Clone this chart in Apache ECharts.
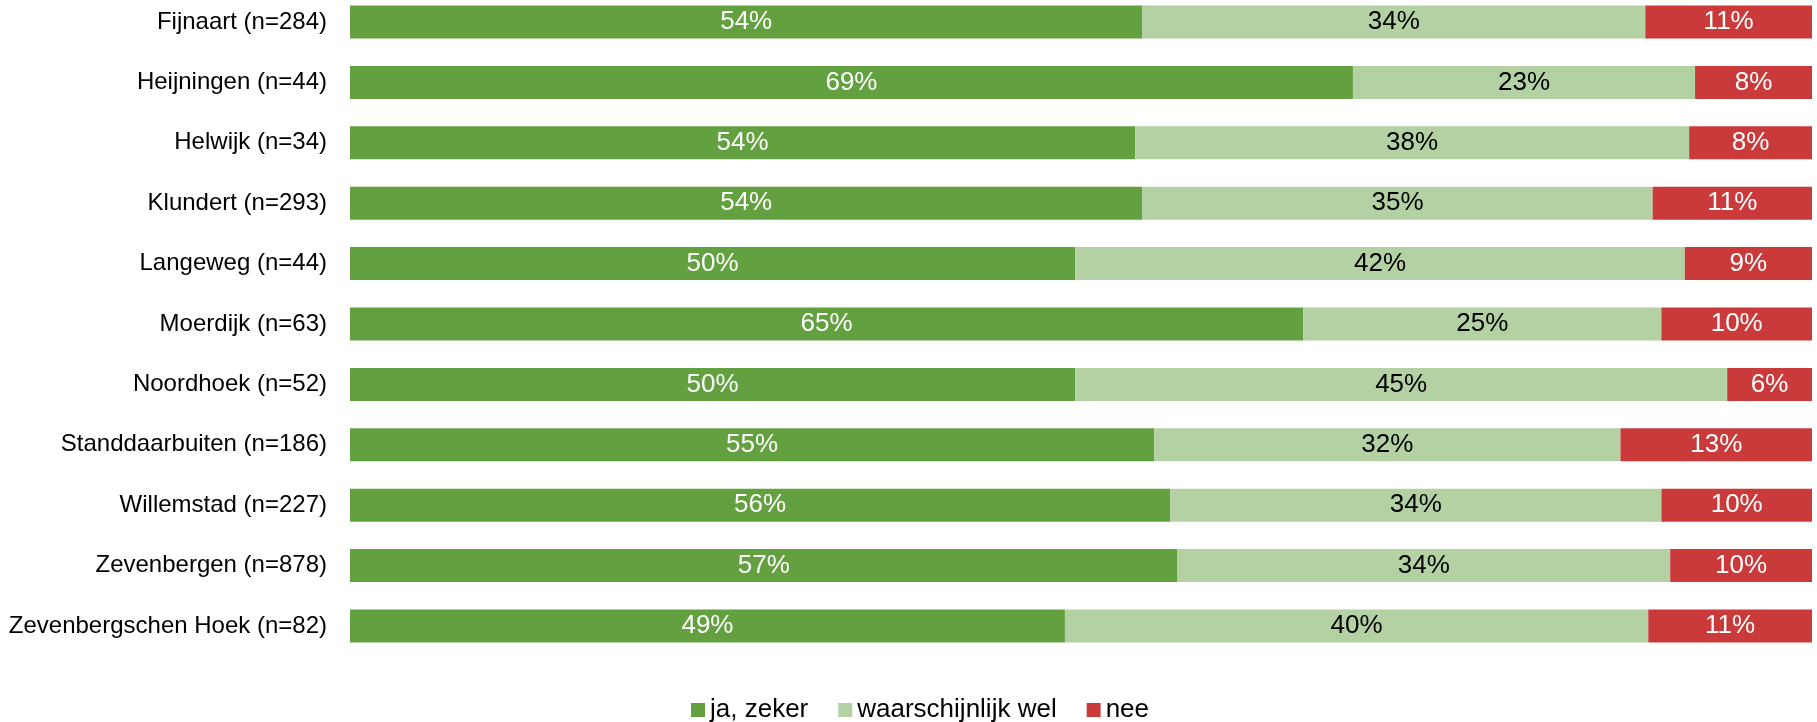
<!DOCTYPE html>
<html>
<head>
<meta charset="utf-8">
<script src="https://cdn.jsdelivr.net/npm/echarts@6/dist/echarts.min.js"></script>
<style>
    html, body { margin: 0; padding: 0; background: #fff; }
    #chart { width: 1817px; height: 722px; }
</style>
</head>
<body>
<div id="chart"></div>
<script>
// kernen (van boven naar beneden)
const categories = [
    'Fijnaart (n=284)',
    'Heijningen (n=44)',
    'Helwijk (n=34)',
    'Klundert (n=293)',
    'Langeweg (n=44)',
    'Moerdijk (n=63)',
    'Noordhoek (n=52)',
    'Standdaarbuiten (n=186)',
    'Willemstad (n=227)',
    'Zevenbergen (n=878)',
    'Zevenbergschen Hoek (n=82)'
];

// percentages per antwoord
const jaZeker = [54.2, 68.6, 53.7, 54.2, 49.6, 65.2, 49.6, 55.0, 56.1, 56.6, 48.9];
const waarschijnlijkWel = [34.4, 23.4, 37.9, 34.9, 41.7, 24.5, 44.6, 31.9, 33.6, 33.7, 39.9];
const nee = [11.4, 8.0, 8.4, 10.9, 8.7, 10.3, 5.8, 13.1, 10.3, 9.7, 11.2];

const seriesNames = ['ja, zeker', 'waarschijnlijk wel', 'nee'];
const colors = ['#63a03f', '#b3d1a2', '#cb3a3a'];

const chart = echarts.init(document.getElementById('chart'));

const makeSeries = (name, data, color, labelColor) => ({
    name: name,
    type: 'bar',
    stack: 'total',
    barWidth: 33,
    clip: false,
    data: data,
    itemStyle: { color: color },
    label: {
        show: true,
        position: 'inside',
        color: labelColor,
        fontFamily: 'Liberation Sans, Arial',
        fontSize: 26,
        formatter: p => Math.round(p.value) + '%'
    }
});

const option = {
    animation: false,
    color: colors,
    // categorieën op de randen: eerste balk op y=22, laatste op y=626
    grid: {
        left: 350,
        right: 5,
        top: 22,
        height: 604,
        containLabel: false
    },
    legend: {
        data: seriesNames,
        left: 686,
        top: 692,
        itemWidth: 14,
        itemHeight: 14,
        itemGap: 30,
        icon: 'rect',
        textStyle: {
            fontFamily: 'Liberation Sans, Arial',
            fontSize: 26,
            color: '#000'
        }
    },
    xAxis: {
        type: 'value',
        min: 0,
        max: 100,
        show: false
    },
    yAxis: {
        type: 'category',
        data: categories,
        inverse: true,
        boundaryGap: false,
        axisLine: { show: false },
        axisTick: { show: false },
        splitLine: { show: false },
        axisLabel: {
            margin: 23,
            color: '#000',
            fontFamily: 'Liberation Sans, Arial',
            fontSize: 24
        }
    },
    series: [
        makeSeries(seriesNames[0], jaZeker, colors[0], '#fff'),
        makeSeries(seriesNames[1], waarschijnlijkWel, colors[1], '#000'),
        makeSeries(seriesNames[2], nee, colors[2], '#fff')
    ]
};

chart.setOption(option);
</script>
</body>
</html>
